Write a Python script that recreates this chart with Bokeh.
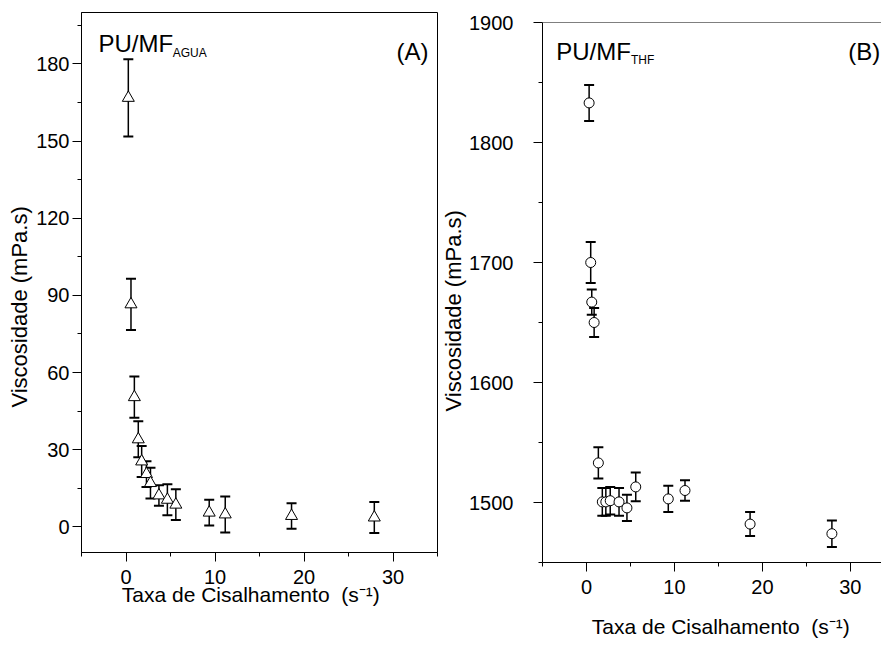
from bokeh.plotting import figure
from bokeh.models import (Range1d, Whisker, ColumnDataSource, Label, FixedTicker,
                          TeeHead, Span, Spacer)
from bokeh.layouts import row, column
from bokeh.embed import file_html
from bokeh.resources import INLINE

# ---- data ----
rate_a = [0.26, 0.56, 0.94, 1.38, 1.76, 2.3, 2.75, 3.7, 4.65, 5.6, 9.35, 11.15, 18.6, 27.9]
visc_a = [166.8, 86.5, 50.4, 34.0, 25.4, 20.5, 17.0, 12.2, 10.5, 8.6, 5.5, 4.8, 4.2, 3.6]
err_a = [15.0, 10.0, 8.0, 7.0, 6.0, 5.0, 6.0, 4.0, 6.0, 6.0, 5.0, 7.0, 5.0, 6.0]

rate_b = [0.3, 0.48, 0.6, 0.87, 1.35, 1.8, 2.2, 2.7, 3.7, 4.6, 5.6, 9.3, 11.2, 18.6, 27.9]
visc_b = [1833, 1700, 1667, 1650, 1533, 1500.5, 1500.5, 1501.5, 1500.5, 1495.5,
          1513, 1503, 1510, 1482, 1474]
err_b = [15, 17, 10.5, 12, 13, 11.5, 11.5, 11.5, 11.5, 11, 12, 11, 8.5, 10, 11]

xticks = [0, 10, 20, 30]
xminor = [-5, 5, 15, 25, 35]
yticks_a = [0, 30, 60, 90, 120, 150, 180]
yminor_a = [15, 45, 75, 105, 135, 165, 195]
yticks_b = [1500, 1600, 1700, 1800, 1900]
yminor_b = [1450, 1550, 1650, 1750, 1850]

FONT = "Liberation Sans"
TICK_FS = "20px"
LAB_FS = "21px"
NB = "\u00a0"
YLABEL = "Viscosidade (mPa.s)"
XLABEL = "Taxa de Cisalhamento" + NB + " (s\u207b\u00b9)"


def style_axes(p, ytk, ymn, y_standoff, ylab_standoff, ylabel, xlabel, xlab_standoff):
    p.xaxis.ticker = FixedTicker(ticks=xticks, minor_ticks=xminor)
    p.yaxis.ticker = FixedTicker(ticks=ytk, minor_ticks=ymn)
    for ax in (p.xaxis[0], p.yaxis[0]):
        ax.axis_line_color = "black"
        ax.axis_line_width = 1
        ax.major_tick_line_color = "black"
        ax.minor_tick_line_color = "black"
        ax.major_tick_out = 9
        ax.major_tick_in = 0
        ax.minor_tick_out = 4
        ax.minor_tick_in = 0
        ax.major_label_text_font = FONT
        ax.major_label_text_font_size = TICK_FS
        ax.major_label_text_color = "black"
        ax.axis_label_text_font = FONT
        ax.axis_label_text_font_size = LAB_FS
        ax.axis_label_text_font_style = "normal"
        ax.axis_label_text_color = "black"
    p.yaxis.axis_label_text_font_size = "22px"
    p.xaxis.major_label_standoff = 8
    p.yaxis.major_label_standoff = y_standoff
    p.yaxis.axis_label = ylabel
    p.yaxis.axis_label_standoff = ylab_standoff
    p.xaxis.axis_label = xlabel
    p.xaxis.axis_label_standoff = xlab_standoff
    p.xgrid.grid_line_color = None
    p.ygrid.grid_line_color = None


def add_errors(p, x, y, e, marker, size):
    src = ColumnDataSource(dict(x=x, y=y,
                                upper=[a + b for a, b in zip(y, e)],
                                lower=[a - b for a, b in zip(y, e)]))
    w = Whisker(base="x", upper="upper", lower="lower", source=src,
                line_color="black", line_width=1.5, level="underlay",
                upper_head=TeeHead(size=10, line_width=2, line_color="black"),
                lower_head=TeeHead(size=10, line_width=2, line_color="black"))
    p.add_layout(w)
    p.scatter("x", "y", source=src, marker=marker, size=size,
              fill_color="white", line_color="black", line_width=1)


# ---- panel A ----
pa = figure(width=438, height=648, output_backend="svg", toolbar_location=None,
            x_range=Range1d(-5, 35), y_range=Range1d(-10, 200),
            min_border_left=81, min_border_right=1, min_border_top=12,
            min_border_bottom=96, outline_line_color="black", outline_line_width=1,
            background_fill_color="white", border_fill_color="white")
style_axes(pa, yticks_a, yminor_a, 3, 1, YLABEL + NB * 8, XLABEL + NB * 3, -4)
add_errors(pa, rate_a, visc_a, err_a, "triangle", 12)
pa.add_layout(Label(x=-3.1, y=187.8, text="PU/MF", text_font=FONT,
                    text_font_size="24px", text_baseline="alphabetic", text_color="black"))
pa.add_layout(Label(x=5.25, y=184.3, text="AGUA", text_font=FONT,
                    text_font_size="12px", text_baseline="alphabetic", text_color="black"))
pa.add_layout(Label(x=34.0, y=184.8, text="(A)", text_font=FONT, text_align="right",
                    text_font_size="24px", text_baseline="alphabetic", text_color="black"))

# ---- panel B ----
pb = figure(width=443, height=642, output_backend="svg", toolbar_location=None,
            x_range=Range1d(-5, -5 + 343 / 8.9), y_range=Range1d(1450, 1900),
            min_border_left=100, min_border_right=0, min_border_top=16,
            min_border_bottom=86, outline_line_color=None,
            background_fill_color="white", border_fill_color="white")
style_axes(pb, yticks_b, yminor_b, 20, 0, YLABEL + NB * 6, NB * 3 + XLABEL, 18)
pb.add_layout(Span(location=1900, dimension="width", line_color="black", line_width=1))
add_errors(pb, rate_b, visc_b, err_b, "circle", 10)
pb.add_layout(Label(x=-3.45, y=1875.8, text="PU/MF", text_font=FONT,
                    text_font_size="24px", text_baseline="alphabetic", text_color="black"))
pb.add_layout(Label(x=5.06, y=1868.9, text="THF", text_font=FONT,
                    text_font_size="12px", text_baseline="alphabetic", text_color="black"))
pb.add_layout(Label(x=33.4, y=1876.0, text="(B)", text_font=FONT, text_align="right",
                    text_font_size="24px", text_baseline="alphabetic", text_color="black"))

layout = row(pa, column(Spacer(height=6, width=443), pb))
open("out.html", "w").write(file_html(layout, INLINE))
